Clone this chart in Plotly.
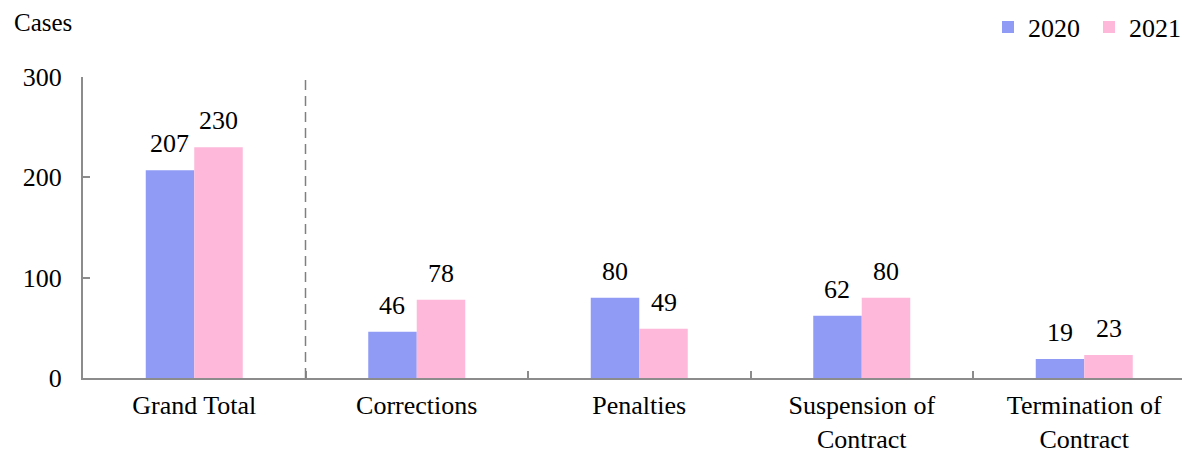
import plotly.graph_objects as go

categories = ["Grand Total", "Corrections", "Penalties", "Suspension of<br>Contract", "Termination of<br>Contract"]
values_2020 = [207, 46, 80, 62, 19]
values_2021 = [230, 78, 49, 80, 23]
series_names = ["2020", "2021"]
y_ticks = [0, 100, 200, 300]

FONT = "Liberation Serif"
C2020 = "#8F9BF5"
C2021 = "#FDB8DA"

# page body has an 8px default margin, so the figure is drawn from (8, 8)
OFF = 8
W, H = 1190 - OFF, 453 - OFF
ml, mr, mt, mb = 83 - OFF, 0, 77 - OFF, 75
cat_w = 222.5
plot_w = W - ml - mr
plot_h = H - mt - mb
xr = [-0.5, -0.5 + plot_w / cat_w]
bargap = 0.564
bar_px = cat_w * (1 - bargap) / 2

fig = go.Figure()
for name, vals, col in [(series_names[0], values_2020, C2020), (series_names[1], values_2021, C2021)]:
    fig.add_trace(go.Bar(
        x=categories, y=vals, name=name, marker=dict(color=col, line=dict(width=0)),
    ))

annotations = []
for k, vals in enumerate([values_2020, values_2021]):
    shift = (k - 0.5) * bar_px
    for c, v in zip(categories, vals):
        annotations.append(dict(x=c, y=v, xref="x", yref="y", text=str(v), showarrow=False,
                                xshift=shift, yshift=10, yanchor="bottom", xanchor="center",
                                font=dict(family=FONT, size=26, color="#000000")))
annotations.append(dict(text="Cases", xref="paper", yref="paper", x=(12 - OFF - ml) / plot_w, y=1.0,
                        yshift=mt - (22 - OFF), xanchor="left", yanchor="middle", showarrow=False,
                        font=dict(family=FONT, size=25)))

fig.update_layout(
    width=W, height=H, margin=dict(l=ml, r=mr, t=mt, b=mb, autoexpand=False),
    paper_bgcolor="white", plot_bgcolor="white",
    barmode="group", bargap=bargap, bargroupgap=0,
    font=dict(family=FONT, color="#000000", size=26),
    showlegend=True,
    legend=dict(orientation="h", x=(988 - OFF - ml) / plot_w, xanchor="left",
                y=1.0 + (77 - 27) / plot_h, yref="paper", yanchor="middle",
                font=dict(family=FONT, size=26), itemwidth=30, entrywidth=56,
                entrywidthmode="pixels", traceorder="normal", bgcolor="rgba(0,0,0,0)", tracegroupgap=0),
    xaxis=dict(range=xr, showline=True, linecolor="#8C8C8C", linewidth=2,
               ticks="inside", tickson="boundaries", ticklen=7, tickcolor="#8C8C8C", tickwidth=1.5,
               tickfont=dict(family=FONT, size=26), showgrid=False, zeroline=False,
               automargin=False, ticklabelstandoff=3),
    yaxis=dict(range=[0, 300], tickvals=y_ticks, showline=True, linecolor="#8C8C8C", linewidth=2,
               ticks="inside", ticklen=7, tickcolor="#8C8C8C", tickwidth=1.5, showgrid=False, zeroline=False,
               tickfont=dict(family=FONT, size=26), ticklabelstandoff=14, automargin=False),
    annotations=annotations,
    shapes=[dict(type="line", xref="x", yref="y", x0=0.5, x1=0.5, y0=0, y1=300,
                 line=dict(color="#7F7F7F", width=1.5, dash="10px,6px"))],
)

fig.write_html("out.html")
